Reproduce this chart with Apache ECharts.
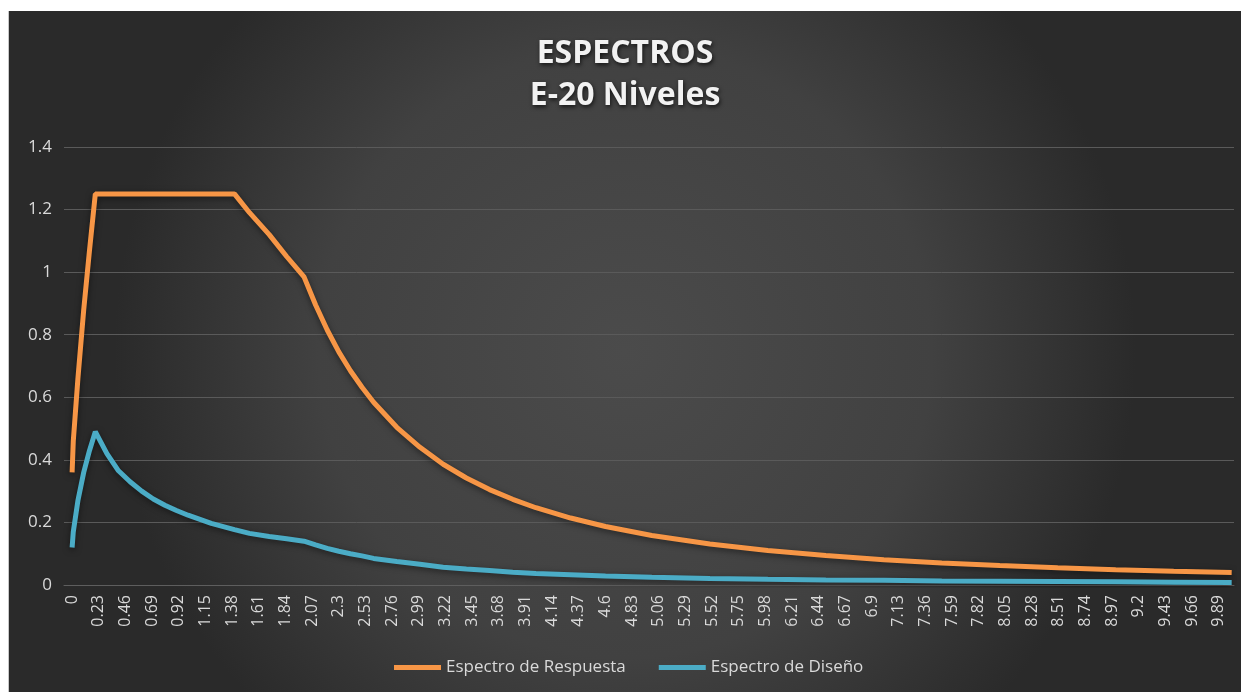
<!DOCTYPE html>
<html>
<head>
<meta charset="utf-8">
<script src="https://cdn.jsdelivr.net/npm/echarts@6/dist/echarts.min.js"></script>
<style>
  html, body { margin: 0; padding: 0; background: #ffffff; }
  #chart {
    position: absolute;
    left: 8px;
    top: 11px;
    width: 1233px;
    height: 681px;
    border-left: 1px solid #c8c8c8;
    box-sizing: border-box;
  }
</style>
</head>
<body>
<div id="chart"></div>
<script>
// periodo T (s)
const periodos = [0, 0.01, 0.05, 0.1, 0.15, 0.2, 0.3, 0.4, 0.5, 0.6, 0.7, 0.8, 0.9, 1.0, 1.2, 1.4,
  1.53, 1.7, 1.85, 2.0, 2.1, 2.2, 2.3, 2.4, 2.5, 2.6, 2.8, 3.0, 3.2, 3.4, 3.6, 3.8, 4.0, 4.3, 4.6,
  5.0, 5.5, 6.0, 6.5, 7.0, 7.5, 8.0, 8.5, 9.0, 9.5, 10.0];

// Espectro de Respuesta
const respuesta = [0.36, 0.46, 0.66, 0.88, 1.07, 1.25, 1.25, 1.25, 1.25, 1.25, 1.25, 1.25, 1.25, 1.25, 1.25, 1.25,
  1.19, 1.12, 1.05, 0.985, 0.895, 0.815, 0.745, 0.685, 0.632, 0.584, 0.504, 0.44, 0.386, 0.342, 0.305, 0.274, 0.247, 0.214, 0.187,
  0.158, 0.131, 0.11, 0.094, 0.081, 0.07, 0.062, 0.055, 0.049, 0.044, 0.04];

// Espectro de Diseño
const diseno = [0.12, 0.17, 0.27, 0.36, 0.43, 0.49, 0.42, 0.365, 0.33, 0.30, 0.275, 0.255, 0.238, 0.223, 0.197, 0.177,
  0.165, 0.155, 0.148, 0.14, 0.128, 0.117, 0.108, 0.1, 0.093, 0.085, 0.075, 0.066, 0.057, 0.051, 0.046, 0.041, 0.037, 0.033, 0.029,
  0.025, 0.021, 0.018, 0.016, 0.015, 0.013, 0.012, 0.011, 0.01, 0.009, 0.008];

// etiquetas del eje X (cada 0.23)
const etiquetasX = [0, 0.23, 0.46, 0.69, 0.92, 1.15, 1.38, 1.61, 1.84, 2.07, 2.3, 2.53, 2.76, 2.99, 3.22,
  3.45, 3.68, 3.91, 4.14, 4.37, 4.6, 4.83, 5.06, 5.29, 5.52, 5.75, 5.98, 6.21, 6.44, 6.67, 6.9, 7.13,
  7.36, 7.59, 7.82, 8.05, 8.28, 8.51, 8.74, 8.97, 9.2, 9.43, 9.66, 9.89];

const fuente = "'Open Sans', sans-serif";
const gris = "#d9d9d9";

let option = {
  backgroundColor: {
    type: "radial",
    x: 0.5,
    y: 0.5,
    r: 0.75,
    colorStops: [
      { offset: 0, color: "#4b4b4b" },
      { offset: 0.6, color: "#414141" },
      { offset: 1, color: "#2a2a2a" }
    ]
  },
  title: {
    text: "ESPECTROS\nE-20 Niveles",
    left: "center",
    top: 17,
    textStyle: {
      color: "#f2f2f2",
      fontFamily: fuente,
      fontWeight: "bold",
      fontSize: 32,
      lineHeight: 42,
      textShadowColor: "rgba(0,0,0,0.7)",
      textShadowBlur: 4,
      textShadowOffsetX: 1,
      textShadowOffsetY: 2
    }
  },
  legend: {
    left: 380,
    bottom: 11,
    itemGap: 33,
    itemWidth: 47,
    itemHeight: 5,
    icon: "rect",
    textStyle: { color: gris, fontFamily: fuente, fontSize: 17 },
    data: ["Espectro de Respuesta", "Espectro de Diseño"]
  },
  grid: {
    left: 55,
    right: 7,
    top: 136,
    bottom: 107
  },
  xAxis: {
    type: "value",
    min: -0.07,
    max: 10.02,
    splitLine: { show: false },
    axisTick: { show: false },
    axisLine: { show: true, lineStyle: { color: "#5e5e5e", width: 1 } },
    axisLabel: {
      customValues: etiquetasX,
      rotate: 90,
      margin: 10,
      color: gris,
      fontFamily: fuente,
      fontSize: 16
    }
  },
  yAxis: {
    type: "value",
    min: 0,
    max: 1.4,
    interval: 0.2,
    axisLine: { show: false },
    axisTick: { show: false },
    splitLine: { lineStyle: { color: "#5a5a5a", width: 1 } },
    axisLabel: {
      margin: 12,
      color: gris,
      fontFamily: fuente,
      fontSize: 17
    }
  },
  series: [
    {
      name: "Espectro de Respuesta",
      type: "line",
      data: periodos.map((t, i) => [t, respuesta[i]]),
      showSymbol: false,
      smooth: false,
      color: "#f79646",
      lineStyle: {
        width: 5,
        color: "#f79646",
        shadowColor: "rgba(0,0,0,0.5)",
        shadowBlur: 6,
        shadowOffsetY: 2
      }
    },
    {
      name: "Espectro de Diseño",
      type: "line",
      data: periodos.map((t, i) => [t, diseno[i]]),
      showSymbol: false,
      smooth: false,
      color: "#4bacc6",
      lineStyle: {
        width: 5,
        color: "#4bacc6",
        shadowColor: "rgba(0,0,0,0.5)",
        shadowBlur: 6,
        shadowOffsetY: 2
      }
    }
  ]
};

let myChart = echarts.init(document.getElementById("chart"));
myChart.setOption(option);
</script>
</body>
</html>
